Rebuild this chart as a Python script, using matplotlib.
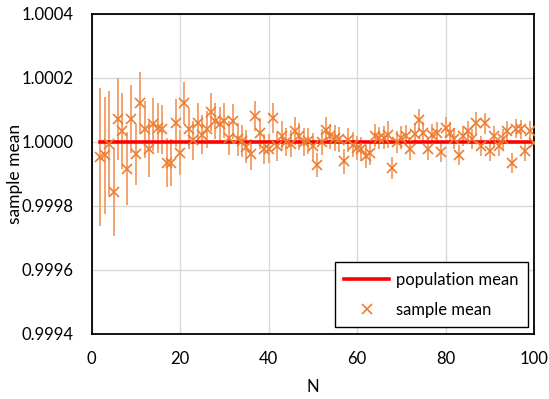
import matplotlib
matplotlib.use("Agg")
import matplotlib.pyplot as plt
from matplotlib.lines import Line2D
import numpy as np

plt.rcParams['font.family'] = ['Lato', 'DejaVu Sans']

N = list(range(2, 101))
# sample mean deviation from 1, in units of 1e-4
dev_1e4 = [
    -0.46, -0.42, -0.05, -1.57, 0.72, 0.34, -0.84, 0.72, -0.39,          # 2-10
    1.22, 0.39, -0.21, 0.55, 0.44, 0.39, -0.65, -0.65, 0.58, -0.33,      # 11-20
    1.22, 0.41, 0.05, 0.60, 0.23, 0.39, 0.93, 0.65, 0.55, 0.67,          # 21-30
    0.11, 0.64, 0.08, 0.03, -0.15, -0.39, 0.81, 0.27, -0.21, -0.21,      # 31-40
    0.76, -0.13, 0.20, 0.00, -0.05, 0.34, 0.18, 0.00, 0.03, -0.13,       # 41-50
    -0.73, 0.00, 0.37, 0.18, 0.13, 0.08, -0.60, 0.06, -0.08, -0.18,      # 51-60
    -0.21, -0.44, -0.34, 0.20, 0.13, 0.13, 0.23, -0.81, 0.00, 0.13,      # 61-70
    0.20, -0.21, 0.26, 0.68, 0.29, -0.23, 0.23, 0.29, -0.32, 0.44,       # 71-80
    0.29, 0.10, -0.42, 0.18, 0.34, 0.10, 0.58, -0.13, 0.58, -0.29,       # 81-90
    0.18, -0.13, 0.10, 0.34, -0.65, 0.41, 0.39, -0.29, 0.34, -0.03,      # 91-100
]
# error bar half-width, in units of 1e-4
err_1e4 = [
    2.16, 1.82, 1.65, 1.38, 1.27, 1.18, 1.14, 1.05, 0.94,
    0.96, 0.90, 0.87, 0.83, 0.77, 0.78, 0.77, 0.73, 0.75, 0.70,
    0.66, 0.64, 0.62, 0.63, 0.60, 0.58, 0.60, 0.56, 0.55, 0.56,
    0.53, 0.54, 0.52, 0.50, 0.51, 0.49, 0.47, 0.48, 0.47, 0.46,
    0.47, 0.45, 0.44, 0.45, 0.43, 0.44, 0.42, 0.43, 0.41, 0.42,
    0.38, 0.41, 0.40, 0.39, 0.40, 0.38, 0.39, 0.37, 0.38, 0.37,
    0.37, 0.36, 0.37, 0.36, 0.35, 0.36, 0.41, 0.35, 0.35, 0.36,
    0.34, 0.35, 0.34, 0.35, 0.33, 0.34, 0.33, 0.34, 0.32, 0.33,
    0.32, 0.33, 0.31, 0.32, 0.32, 0.31, 0.36, 0.31, 0.32, 0.30,
    0.31, 0.30, 0.31, 0.30, 0.31, 0.30, 0.30, 0.29, 0.30, 0.29,
]
population_mean = 1.0

sample_mean = 1.0 + np.array(dev_1e4) * 1e-4
sample_err = np.array(err_1e4) * 1e-4

fig = plt.figure(figsize=(5.49, 3.99), dpi=100)
ax = fig.add_axes([0.1667, 0.163, 0.806, 0.802])

orange = '#ED7D31'
ax.errorbar(N, sample_mean, yerr=sample_err, fmt='none', ecolor='#F3A46E',
            elinewidth=1.4, capsize=0, zorder=2)
ax.plot([N[0], N[-1]], [population_mean, population_mean], color='#FF0000',
        linewidth=2.6, zorder=3)
ax.plot(N, sample_mean, linestyle='none', marker='x', markersize=7,
        markeredgewidth=1.2, color=orange, zorder=4)

ax.set_xlim(0, 100)
ax.set_ylim(0.9994, 1.0004)
ax.set_xticks([0, 20, 40, 60, 80, 100])
yt = [0.9994, 0.9996, 0.9998, 1.0000, 1.0002, 1.0004]
ax.set_yticks(yt)
ax.set_yticklabels([f"{v:.4f}" for v in yt])
ax.grid(True, color='#D9D9D9', linewidth=1.0)
ax.set_axisbelow(True)
ax.tick_params(axis='y', length=0, labelsize=12, pad=13, colors='#000000')
ax.tick_params(axis='x', length=0, labelsize=12, pad=12, colors='#000000')
for s in ax.spines.values():
    s.set_color('black')
    s.set_linewidth(1.3)

ax.set_xlabel('N', fontsize=12, labelpad=9)
ax.set_ylabel('sample mean', fontsize=12.5, labelpad=-1)

handles = [Line2D([], [], color='#FF0000', linewidth=2.6),
           Line2D([], [], linestyle='none', marker='x', markersize=7,
                  markeredgewidth=1.2, color=orange)]
leg = ax.legend(handles, ['population mean', 'sample mean'],
                loc='lower right', bbox_to_anchor=(0.986, 0.022),
                fontsize=12, fancybox=False, framealpha=1,
                edgecolor='black', borderpad=0.55, labelspacing=0.85,
                handlelength=2.7, handletextpad=0.4, borderaxespad=0)
leg.get_frame().set_linewidth(1.0)

fig.savefig('out.png', dpi=100)
